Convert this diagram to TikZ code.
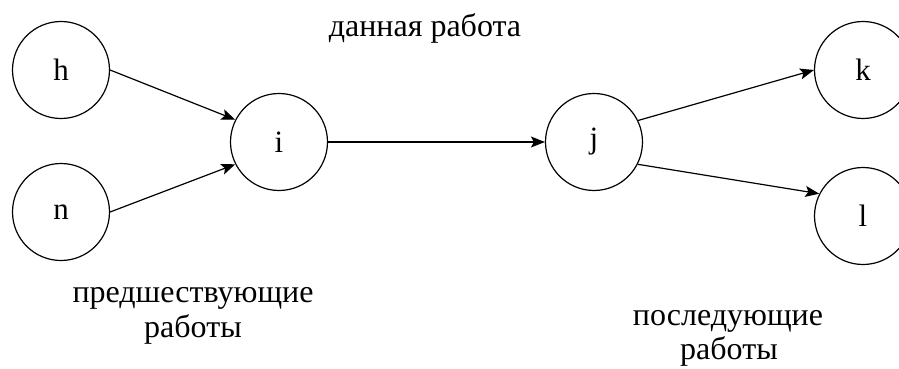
\documentclass[tikz,border=0pt]{standalone}
\usepackage{fontspec}
\setmainfont{Liberation Serif}
\usetikzlibrary{arrows.meta}
\begin{document}
\begin{tikzpicture}[x=1pt,y=-1pt,
  ev/.style={circle,draw,line width=1.2pt,minimum size=97pt,inner sep=0pt,font=\fontsize{31}{36}\selectfont},
  arr/.style={line width=1.2pt,-{Stealth[length=14pt,width=11pt,inset=3pt]}},
  lab/.style={font=\fontsize{32}{38}\selectfont,inner sep=0pt}]
\useasboundingbox (0,0) rectangle (899,369);
\clip (0,0) rectangle (899,369);
\node[ev] (h) at (61,70) {h};
\node[ev] (n) at (61,212) {n};
\node[ev] (i) at (279,142) {i};
\node[ev] (j) at (594,142) {j};
\node[ev] (k) at (863,70) {k};
\node[ev] (l) at (863,216) {l};
\draw[arr] (h.0) -- (i.153);
\draw[arr] (n.0) -- (i.207);
\draw[arr] (i.0) -- (j.180);
\draw[arr] (j.26) -- (k.180);
\draw[arr] (j.333) -- (l.153);
\node[lab,anchor=base] (t1) at (425,37) {данная работа};
\node[lab,anchor=base] (t2) at (193,302) {предшествующие};
\node[lab,anchor=base] (t3) at (193,337) {работы};
\node[lab,anchor=base] (t4) at (728,325) {последующие};
\node[lab,anchor=base] (t5) at (729,359) {работы};
\end{tikzpicture}
\end{document}
